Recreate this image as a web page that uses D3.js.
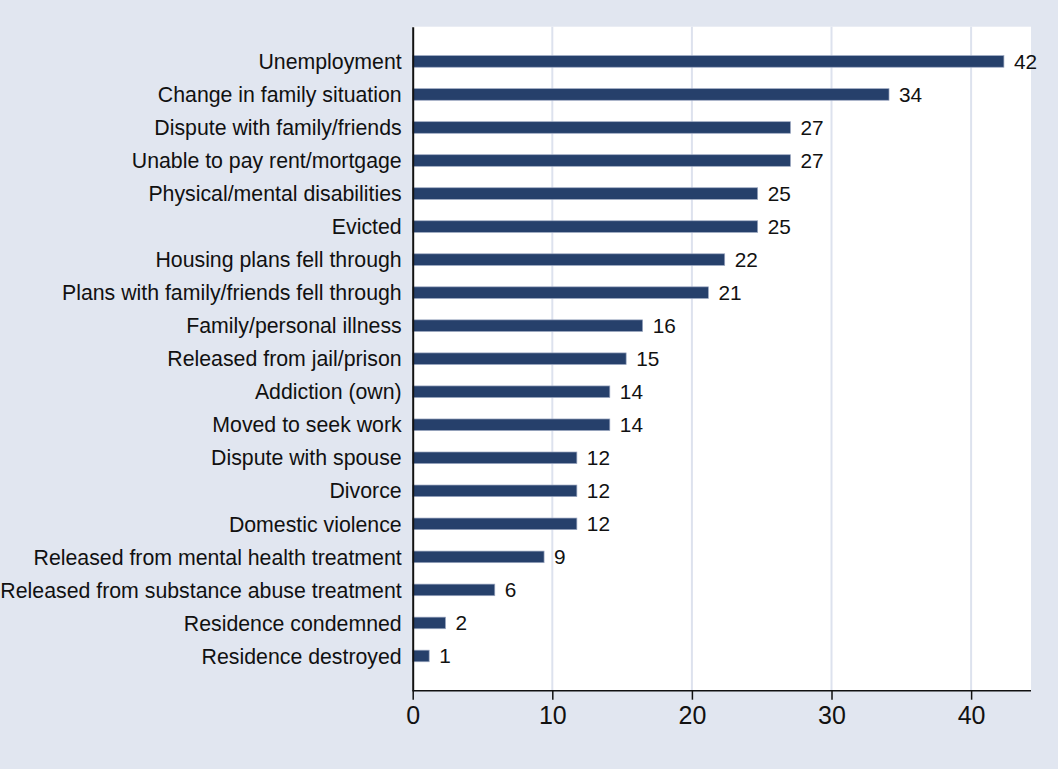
<!DOCTYPE html>
<html>
<head>
<meta charset="utf-8">
<script src="https://cdn.jsdelivr.net/npm/d3@7"></script>
<style>
  html, body { margin: 0; padding: 0; background: #e1e6f0; }
  svg { display: block; }
</style>
</head>
<body>
<svg id="chart" width="1058" height="769"></svg>
<script>
const categories = [
  "Unemployment",
  "Change in family situation",
  "Dispute with family/friends",
  "Unable to pay rent/mortgage",
  "Physical/mental disabilities",
  "Evicted",
  "Housing plans fell through",
  "Plans with family/friends fell through",
  "Family/personal illness",
  "Released from jail/prison",
  "Addiction (own)",
  "Moved to seek work",
  "Dispute with spouse",
  "Divorce",
  "Domestic violence",
  "Released from mental health treatment",
  "Released from substance abuse treatment",
  "Residence condemned",
  "Residence destroyed"
];
const values = [42.35, 34.12, 27.06, 27.06, 24.71, 24.71, 22.35, 21.18, 16.47, 15.29,
                14.12, 14.12, 11.76, 11.76, 11.76, 9.41, 5.88, 2.35, 1.18];
const xTicks = [0, 10, 20, 30, 40];

(function () {
const W = 1058, H = 769;
const pL = 412.7, pR = 1031, pT = 26.7, pB = 690.7;
const FONT = "Liberation Sans, Arial, Helvetica, sans-serif";

const svg = d3.select("#chart");
svg.append("rect").attr("width", W).attr("height", H).attr("fill", "#e1e6f0");

const x = d3.scaleLinear().domain([0, 44.29]).range([pL, pR]);
const y = d3.scaleBand().domain(categories).range([pT, pB])
  .paddingInner(0.649).paddingOuter(0.876);

// plot area
svg.append("rect").attr("x", pL).attr("y", pT)
  .attr("width", pR - pL).attr("height", pB - pT).attr("fill", "#ffffff");

// gridlines
svg.append("g").selectAll("line").data(xTicks.filter(d => d > 0)).join("line")
  .attr("x1", d => x(d)).attr("x2", d => x(d))
  .attr("y1", pT).attr("y2", pB)
  .attr("stroke", "#dde2ee").attr("stroke-width", 2);

// bars
svg.append("g").selectAll("rect").data(values).join("rect")
  .attr("x", x(0))
  .attr("y", (d, i) => y(categories[i]))
  .attr("width", d => x(d) - x(0))
  .attr("height", y.bandwidth())
  .attr("fill", "#26406b")
  .attr("stroke", "#9ba7c0")
  .attr("stroke-width", 0.7);

// value labels
svg.append("g").selectAll("text").data(values).join("text")
  .attr("x", d => x(d) + 10)
  .attr("y", (d, i) => y(categories[i]) + y.bandwidth() / 2)
  .attr("dy", "0.36em")
  .attr("font-family", FONT)
  .attr("font-size", 20.8)
  .attr("fill", "#111")
  .text(d => Math.round(d));

// category labels
svg.append("g").selectAll("text").data(categories).join("text")
  .attr("x", pL - 11)
  .attr("y", d => y(d) + y.bandwidth() / 2)
  .attr("dy", "0.36em")
  .attr("text-anchor", "end")
  .attr("font-family", FONT)
  .attr("font-size", 21.3)
  .attr("fill", "#111")
  .text(d => d);

// x axis
const xAxis = d3.axisBottom(x).tickValues(xTicks).tickSize(9).tickPadding(7).tickFormat(d3.format("d"));
const gx = svg.append("g").attr("transform", `translate(0,${pB})`).call(xAxis);
gx.select(".domain").attr("d", `M${pL},0H${pR}`).attr("stroke", "#111").attr("stroke-width", 1.5);
gx.selectAll(".tick line").attr("stroke", "#111").attr("stroke-width", 1.5);
gx.selectAll(".tick text").attr("font-family", FONT)
  .attr("font-size", 25).attr("fill", "#111");

// y axis line
const yAxis = d3.axisLeft(y).tickSize(0).tickFormat("");
const gy = svg.append("g").attr("transform", `translate(${pL},0)`).call(yAxis);
gy.select(".domain").attr("stroke", "#111").attr("stroke-width", 2);
gy.selectAll(".tick").remove();
})();
</script>
</body>
</html>
